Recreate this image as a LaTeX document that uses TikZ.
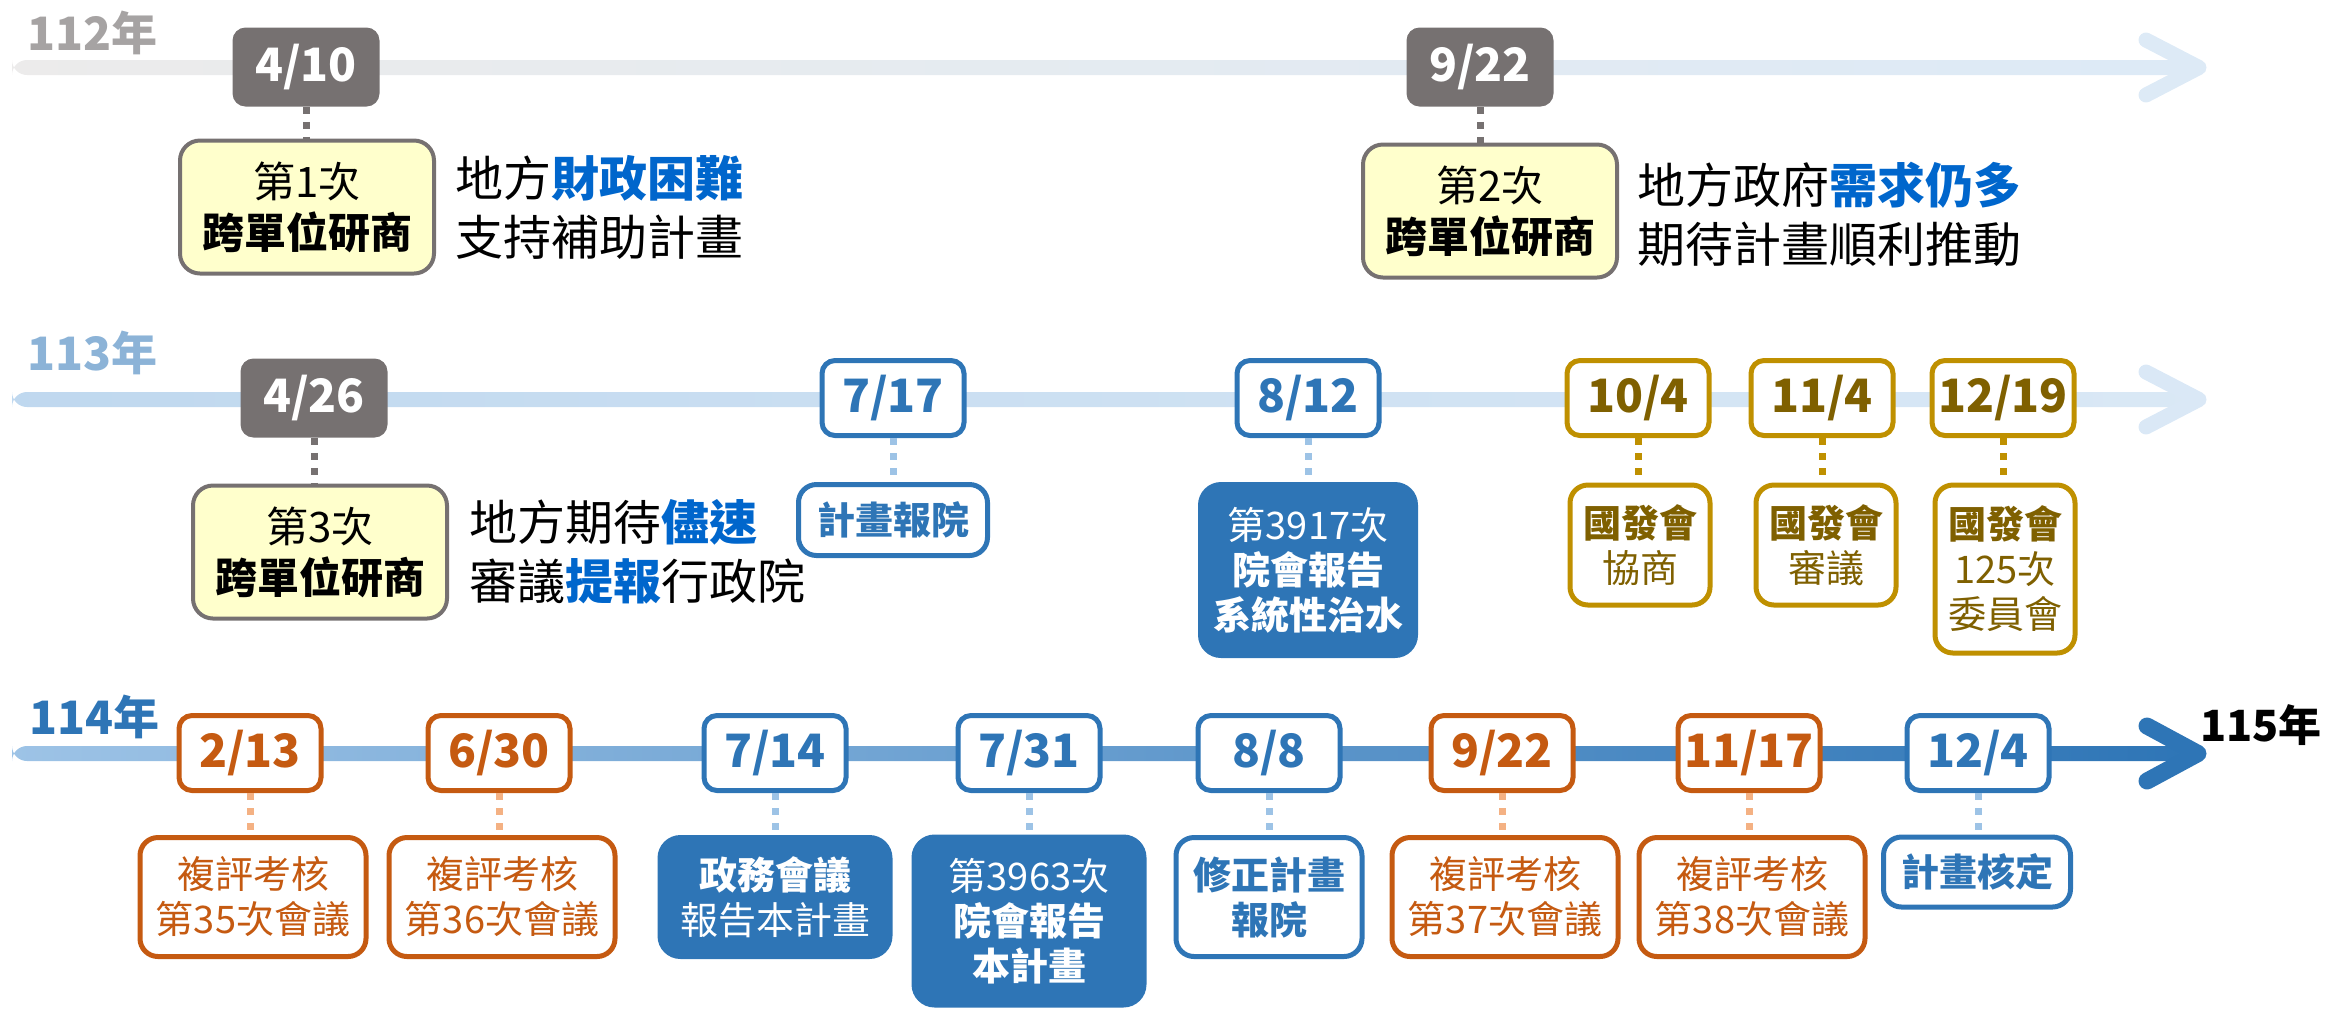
\documentclass[tikz,border=0pt]{standalone}
\usepackage{fontspec}
\setmainfont{Noto Sans CJK TC}
\definecolor{markgray}{HTML}{767171}
\definecolor{talkyellow}{HTML}{FFFFCC}
\definecolor{planblue}{HTML}{2E75B6}
\definecolor{paleblue}{HTML}{9DC3E6}
\definecolor{hotblue}{HTML}{0066CC}
\definecolor{councilgold}{HTML}{BF9000}
\definecolor{councilbrown}{HTML}{7F6000}
\definecolor{reviewred}{HTML}{C55A11}
\definecolor{reviewpale}{HTML}{F4B183}
\newcommand\datesize{\fontsize{23}{27}\selectfont\bfseries}
\newcommand\yearsize{\fontsize{23}{27}\selectfont\bfseries}
\newcommand\talksize{\fontsize{21}{25.5}\selectfont}
\newcommand\leadsize{\fontsize{24}{29.5}\selectfont}
\newcommand\notesize{\fontsize{19}{22.5}\selectfont}

\begin{document}
\begin{tikzpicture}[x=.5pt,y=-.5pt,
  datebox/.style={rounded corners=6.5pt, minimum width=71pt, minimum height=37.5pt, inner sep=0pt, font=\datesize},
  graydate/.style={datebox, fill=markgray, text=white, minimum width=73.5pt, minimum height=39.5pt},
  bluedate/.style={datebox, draw=planblue, line width=2.5pt, fill=white, text=planblue},
  golddate/.style={datebox, draw=councilgold, line width=2.5pt, fill=white, text=councilbrown},
  reddate/.style={datebox, draw=reviewred, line width=2.5pt, fill=white, text=reviewred},
  talkbox/.style={rounded corners=10pt, fill=talkyellow, draw=markgray, line width=2pt, minimum width=127pt, minimum height=66.5pt, align=center, font=\talksize},
  lead/.style={anchor=west, align=left, font=\leadsize, inner sep=0pt},
  notebox/.style={rounded corners=9pt, line width=2.5pt, align=center, font=\notesize, inner sep=0pt},
  bluenote/.style={notebox, draw=planblue, fill=white, text=planblue, font=\notesize\bfseries},
  fillnote/.style={notebox, fill=planblue, text=white, rounded corners=11.5pt},
  goldnote/.style={notebox, draw=councilgold, fill=white, text=councilbrown, minimum width=70pt},
  rednote/.style={notebox, draw=reviewred, fill=white, text=reviewred, minimum width=113pt, minimum height=59.5pt},
  link/.style={line width=3.5pt, dash pattern=on 3.5pt off 4pt},
  head/.style={line width=7.5pt, line cap=round, line join=round},
  year/.style={anchor=west, inner sep=0pt, font=\yearsize}]
\useasboundingbox (0,0) rectangle (2326,1009);

\shade[left color=markgray!14, right color=paleblue!35, rounded corners=7.5pt] (12,60) rectangle (2196,75);
\draw[head, paleblue!35] (2146,40) -- (2199,67.5) -- (2146,95);
\shade[left color=paleblue!65, right color=paleblue!38, rounded corners=7.5pt] (12,392) rectangle (2196,407);
\draw[head, paleblue!38] (2146,372) -- (2199,399.5) -- (2146,427);
\shade[left color=paleblue, right color=planblue, rounded corners=7.5pt] (12,746) rectangle (2196,761);
\draw[head, line width=8.5pt, planblue] (2147,726) -- (2198,753.5) -- (2147,781);

\node[year, markgray!65] (y112) at (27,33) {112年};
\node[year, planblue!55] (y113) at (27,353) {113年};
\node[year, planblue] (y114) at (29,717) {114年};
\node[year, black, font=\fontsize{21.5}{25}\selectfont\bfseries] (y115) at (2200,725) {115年};

\node[graydate] (d0410) at (306,67) {4/10};
\node[talkbox] (t1) at (307,207) {第1次\\\textbf{跨單位研商}};
\node[lead] (l1) at (455,207) {地方\textcolor{hotblue}{\textbf{財政困難}}\\支持補助計畫};
\node[graydate] (d0922) at (1480,67) {9/22};
\node[talkbox] (t2) at (1490,211) {第2次\\\textbf{跨單位研商}};
\node[lead] (l2) at (1637,214) {地方政府\textcolor{hotblue}{\textbf{需求仍多}}\\期待計畫順利推動};

\node[graydate] (d0426) at (314,398) {4/26};
\node[talkbox] (t3) at (320,552) {第3次\\\textbf{跨單位研商}};
\node[lead] (l3) at (469,552) {地方期待\textcolor{hotblue}{\textbf{儘速}}\\審議\textcolor{hotblue}{\textbf{提報}}行政院};
\node[bluedate] (d0717) at (893,398) {7/17};
\node[bluenote, minimum width=94.5pt, minimum height=35.5pt] (n0717) at (893,520) {計畫報院};
\node[bluedate] (d0812) at (1308,398) {8/12};
\node[fillnote, minimum width=110pt, minimum height=88pt] (n0812) at (1308,570) {第3917次\\\textbf{院會報告}\\\textbf{系統性治水}};
\node[golddate] (d1004) at (1638,398) {10/4};
\node[goldnote, minimum height=60pt] (n1004) at (1640,545) {\textbf{國發會}\\協商};
\node[golddate] (d1104) at (1822,398) {11/4};
\node[goldnote, minimum height=60pt] (n1104) at (1826,545) {\textbf{國發會}\\審議};
\node[golddate] (d1219) at (2003,398) {12/19};
\node[goldnote, minimum height=84pt] (n1219) at (2005,569) {\textbf{國發會}\\125次\\委員會};

\node[reddate] (d0213) at (250,753) {2/13};
\node[rednote] (n0213) at (253,897) {複評考核\\第35次會議};
\node[reddate] (d0630) at (499,753) {6/30};
\node[rednote] (n0630) at (502,897) {複評考核\\第36次會議};
\node[bluedate] (d0714) at (775,753) {7/14};
\node[fillnote, minimum width=117.5pt, minimum height=62pt] (n0714) at (775,897) {\textbf{政務會議}\\報告本計畫};
\node[bluedate] (d0731) at (1029,753) {7/31};
\node[fillnote, minimum width=117.5pt, minimum height=86.5pt] (n0731) at (1029,921) {第3963次\\\textbf{院會報告}\\\textbf{本計畫}};
\node[bluedate] (d0808) at (1269,753) {8/8};
\node[bluenote, minimum width=93pt, minimum height=59.5pt] (n0808) at (1269,897) {修正計畫\\報院};
\node[reddate] (d0922b) at (1502,753) {9/22};
\node[rednote] (n0922b) at (1505,897) {複評考核\\第37次會議};
\node[reddate] (d1117) at (1749,753) {11/17};
\node[rednote] (n1117) at (1752,897) {複評考核\\第38次會議};
\node[bluedate] (d1204) at (1978,753) {12/4};
\node[bluenote, minimum width=93.5pt, minimum height=35pt] (n1204) at (1977,872) {計畫核定};

\foreach \d/\n in {d0410/t1, d0922/t2, d0426/t3}
  \draw[link, markgray] (\d.south) -- (\d.south |- \n.north);
\foreach \d/\n in {d0717/n0717, d0812/n0812, d0714/n0714, d0731/n0731, d0808/n0808, d1204/n1204}
  \draw[link, paleblue] (\d.south) -- (\d.south |- \n.north);
\foreach \d/\n in {d1004/n1004, d1104/n1104, d1219/n1219}
  \draw[link, councilgold] (\d.south) -- (\d.south |- \n.north);
\foreach \d/\n in {d0213/n0213, d0630/n0630, d0922b/n0922b, d1117/n1117}
  \draw[link, reviewpale] (\d.south) -- (\d.south |- \n.north);
\end{tikzpicture}
\end{document}
